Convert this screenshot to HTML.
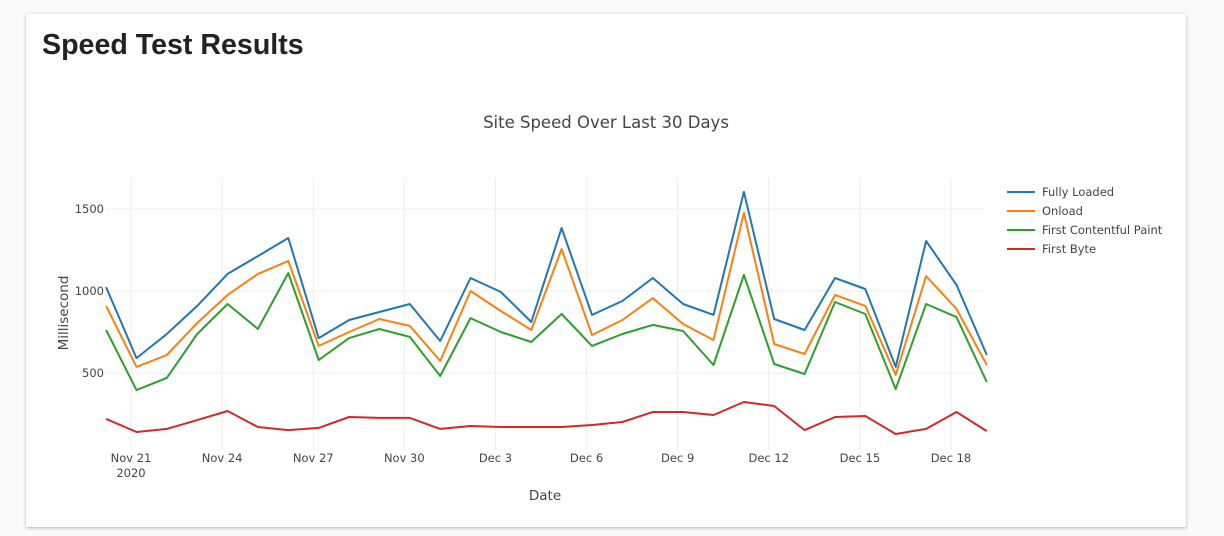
<!DOCTYPE html>
<html><head><meta charset="utf-8"><style>
body{margin:0;background:#fafafa;font-family:"Liberation Sans",sans-serif;}
#card{position:absolute;left:26px;top:14px;width:1160px;height:513px;background:#fff;box-shadow:0 1px 3px rgba(0,0,0,.3);}
h1{position:absolute;left:16px;top:15px;margin:0;font-size:28.6px;font-weight:bold;color:#222;}
svg{position:absolute;left:0;top:0;font-family:"DejaVu Sans",sans-serif;}
</style></head><body>
<div id="card"><h1>Speed Test Results</h1></div>
<svg id="chart" width="1224" height="536"></svg>
<script>
const seriesNames=["Fully Loaded","Onload","First Contentful Paint","First Byte"];
const seriesColors=["#1f77b4","#ff7f0e","#2ca02c","#d62728"];
const fullyLoaded=[1024,591,738,909,1104,1213,1323,713,823,872,921,695,1079,994,811,1384,854,939,1079,921,854,1604,829,762,1079,1012,537,1305,1037,610];
const onload=[909,537,610,805,976,1104,1183,665,750,829,787,573,1000,878,762,1256,732,823,957,799,701,1476,677,616,976,909,488,1091,890,549];
const fcp=[762,396,470,738,921,768,1110,579,713,768,720,482,835,750,689,860,665,738,793,756,549,1098,555,494,933,860,402,921,841,445];
const firstByte=[220,140,159,213,268,171,152,165,232,226,226,159,177,171,171,171,183,201,262,262,244,323,299,152,232,238,128,159,262,146];
const yTicks=[500,1000,1500];
const xTickLabels=["Nov 21","Nov 24","Nov 27","Nov 30","Dec 3","Dec 6","Dec 9","Dec 12","Dec 15","Dec 18"];
const xTickDays=[0,3,6,9,12,15,18,21,24,27];
const firstDay=-0.82;
const NS="http://www.w3.org/2000/svg";
const svg=document.getElementById('chart');
const x=d=>131+(d)*30.37;
const y=v=>455-v*0.164;
function el(t,a,txt){const e=document.createElementNS(NS,t);for(const k in a)e.setAttribute(k,a[k]);if(txt!==undefined)e.textContent=txt;svg.appendChild(e);return e;}
yTicks.forEach(v=>{
 const g=el('line',{x1:106,x2:984,y1:y(v),y2:y(v),stroke:'#eee','stroke-width':1});
 
 
 const t=el('text',{x:104,y:y(v)+4,'text-anchor':'end','font-size':11.5,fill:'#444'},v);
 
 
});
xTickDays.forEach((d,i)=>{
 const g=el('line',{x1:x(d),x2:x(d),y1:178,y2:450,stroke:'#eee','stroke-width':1});
 
 
 const t=el('text',{x:x(d),y:462,'text-anchor':'middle','font-size':11.5,fill:'#444'},xTickLabels[i]);
 
 
});
const yr=el('text',{x:x(0),y:477,'text-anchor':'middle','font-size':11.5,fill:'#444'},"2020");


[fullyLoaded,onload,fcp,firstByte].forEach((arr,s)=>{
 const pts=arr.map((v,i)=>x(firstDay+i).toFixed(1)+','+y(v).toFixed(1)).join(' ');
 const p=el('polyline',{points:pts,fill:'none',stroke:seriesColors[s],'stroke-width':2,'stroke-linejoin':'round'});
 
 
 const ly=192+s*19;
 const ll=el('line',{x1:1007,x2:1035,y1:ly,y2:ly,stroke:seriesColors[s],'stroke-width':2});
 
 
 const lt=el('text',{x:1042,y:ly+4,'font-size':11.5,fill:'#444'},seriesNames[s]);
 
 
});
const ct=el('text',{x:606,y:128,'text-anchor':'middle','font-size':16.5,fill:'#444'},"Site Speed Over Last 30 Days");


const xt=el('text',{x:545,y:500,'text-anchor':'middle','font-size':13.5,fill:'#444'},"Date");


const yt=el('text',{x:68,y:313,'text-anchor':'middle','font-size':13.5,fill:'#444',transform:'rotate(-90 68 313)'},"Millisecond");


</script>
</body></html>
